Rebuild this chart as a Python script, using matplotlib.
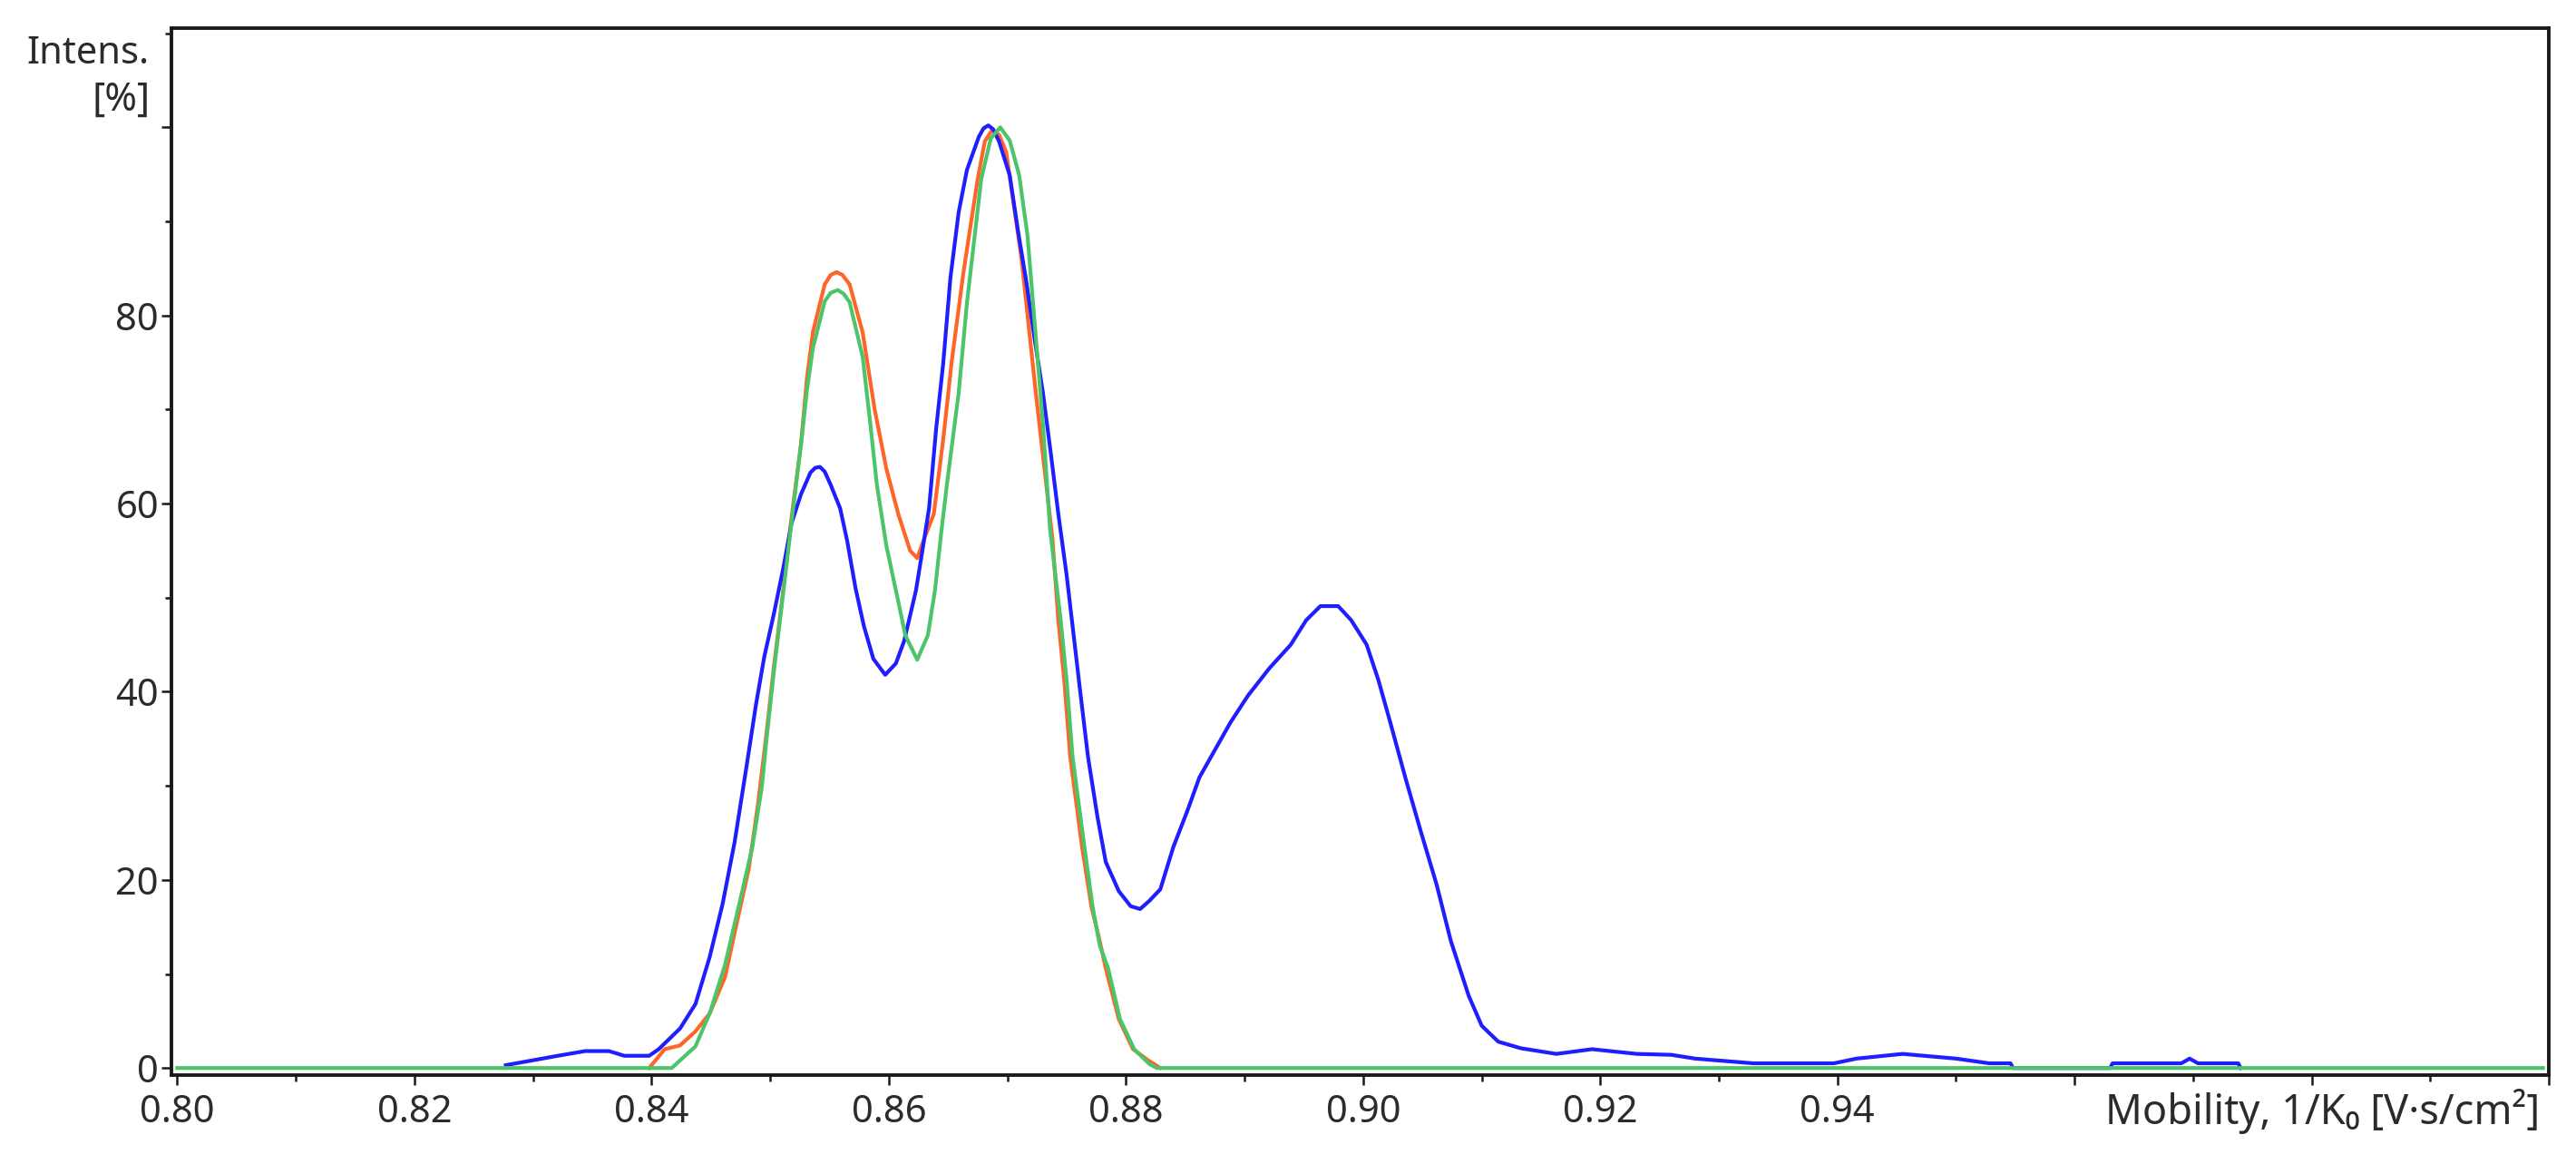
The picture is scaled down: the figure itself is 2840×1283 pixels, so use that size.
import matplotlib
matplotlib.use("Agg")
import matplotlib.pyplot as plt
from matplotlib.ticker import MultipleLocator, FixedLocator, FixedFormatter

plt.rcParams["font.family"] = ["Noto Sans", "DejaVu Sans"]

# mobilograms, 1/K0 in V*s/cm2 vs relative intensity in %
blue_k0 = [0.8277, 0.8299, 0.8321, 0.8344, 0.8364, 0.8377, 0.8398, 0.8406, 0.8424,
           0.8437, 0.8449, 0.8460, 0.8470, 0.8480, 0.8488, 0.8495, 0.8503, 0.8511,
           0.8518, 0.8526, 0.8534, 0.8538, 0.8542, 0.8546, 0.8551, 0.8559, 0.8565,
           0.8572, 0.8579, 0.8587, 0.8597, 0.8606, 0.8613, 0.8623, 0.8628, 0.8634,
           0.8640, 0.8646, 0.8652, 0.8659, 0.8666, 0.8676, 0.8680, 0.8684, 0.8688,
           0.8693, 0.8702, 0.8709, 0.8716, 0.8723, 0.8730, 0.8737, 0.8743, 0.8750,
           0.8755, 0.8761, 0.8768, 0.8776, 0.8783, 0.8794, 0.8804, 0.8812, 0.8820,
           0.8829, 0.8840, 0.8852, 0.8862, 0.8875, 0.8888, 0.8903, 0.8921, 0.8939,
           0.8952, 0.8964, 0.8979, 0.8990, 0.9003, 0.9013, 0.9023, 0.9036, 0.9049,
           0.9062, 0.9074, 0.9089, 0.9100, 0.9114, 0.9133, 0.9163, 0.9193, 0.9231,
           0.9260, 0.9280, 0.9329, 0.9397, 0.9416, 0.9455, 0.9500, 0.9528, 0.9546,
           0.9548, 0.9630, 0.9632, 0.9690, 0.9697, 0.9704, 0.9738, 0.9740]
blue_int = [0.3, 0.8, 1.3, 1.8, 1.8, 1.3, 1.3, 2.0, 4.2,
            6.8, 11.8, 17.5, 24.0, 32.0, 38.6, 43.7, 48.2, 53.1,
            57.9, 61.0, 63.3, 63.8, 63.9, 63.4, 62.0, 59.5, 56.0,
            51.0, 47.0, 43.5, 41.8, 43.0, 45.4, 50.8, 54.7, 59.5,
            68.0, 75.0, 84.0, 91.0, 95.5, 99.0, 99.9, 100.2, 99.8,
            98.5, 94.9, 89.0, 83.6, 77.5, 71.8, 65.0, 58.9, 52.4,
            47.0, 40.5, 33.1, 26.7, 21.9, 18.8, 17.2, 16.9, 17.8,
            19.0, 23.5, 27.4, 30.9, 33.8, 36.7, 39.6, 42.5, 45.0,
            47.6, 49.1, 49.1, 47.6, 45.0, 41.2, 36.7, 30.7, 25.0,
            19.5, 13.5, 7.7, 4.5, 2.8, 2.1, 1.5, 2.0, 1.5,
            1.4, 1.0, 0.5, 0.5, 1.0, 1.5, 1.0, 0.5, 0.5,
            0.0, 0.0, 0.5, 0.5, 1.0, 0.5, 0.5, 0.0]

orange_k0 = [0.8398, 0.8411, 0.8424, 0.8437, 0.8449, 0.8462, 0.8472, 0.8482, 0.8490,
             0.8497, 0.8503, 0.8511, 0.8518, 0.8526, 0.8531, 0.8536, 0.8546, 0.8551,
             0.8556, 0.8561, 0.8567, 0.8578, 0.8588, 0.8598, 0.8608, 0.8618, 0.8624,
             0.8630, 0.8638, 0.8646, 0.8653, 0.8663, 0.8675, 0.8681, 0.8687, 0.8693,
             0.8699, 0.8712, 0.8724, 0.8738, 0.8743, 0.8748, 0.8753, 0.8758, 0.8763,
             0.8771, 0.8777, 0.8783, 0.8794, 0.8806, 0.8819, 0.8829]
orange_int = [0.0, 2.0, 2.4, 3.9, 5.8, 9.7, 15.5, 21.2, 28.3,
              35.7, 42.5, 50.8, 58.5, 66.3, 73.3, 78.2, 83.3, 84.3,
              84.6, 84.3, 83.3, 78.2, 70.1, 63.7, 58.9, 55.0, 54.2,
              56.3, 58.9, 66.9, 75.0, 84.6, 94.5, 98.5, 99.7, 99.2,
              97.4, 86.0, 71.8, 56.3, 47.6, 41.2, 33.1, 28.3, 23.5,
              17.1, 14.0, 10.6, 5.2, 2.0, 0.8, 0.0]

green_k0 = [0.8000, 0.8417, 0.8437, 0.8449, 0.8462, 0.8475, 0.8485, 0.8493, 0.8497,
            0.8503, 0.8511, 0.8518, 0.8526, 0.8531, 0.8536, 0.8546, 0.8551, 0.8557,
            0.8562, 0.8567, 0.8578, 0.8584, 0.8590, 0.8598, 0.8607, 0.8614, 0.8624,
            0.8633, 0.8639, 0.8644, 0.8649, 0.8659, 0.8666, 0.8678, 0.8686, 0.8694,
            0.8702, 0.8710, 0.8717, 0.8730, 0.8736, 0.8745, 0.8750, 0.8755, 0.8760,
            0.8765, 0.8772, 0.8778, 0.8785, 0.8795, 0.8807, 0.8820, 0.8826, 0.9995]
green_int = [0.0, 0.0, 2.3, 5.8, 11.0, 18.0, 23.5, 29.9, 35.0,
             42.0, 50.5, 58.0, 66.3, 72.0, 76.5, 81.5, 82.4, 82.7,
             82.3, 81.4, 75.6, 69.0, 62.0, 55.5, 50.2, 46.0, 43.4,
             46.0, 50.8, 56.6, 62.0, 71.8, 81.4, 94.5, 98.8, 100.0,
             98.6, 94.9, 88.5, 68.5, 57.3, 47.6, 41.2, 33.1, 28.3,
             23.5, 17.1, 13.0, 10.6, 5.2, 2.0, 0.4, 0.0, 0.0]

x_major = [0.80, 0.82, 0.84, 0.86, 0.88, 0.90, 0.92, 0.94, 0.96, 0.98, 1.00]
x_labels = ["0.80", "0.82", "0.84", "0.86", "0.88", "0.90", "0.92", "0.94", "", "", ""]
y_major = [0, 20, 40, 60, 80, 100]
y_labels = ["0", "20", "40", "60", "80", ""]

BLUE = "#1e1eff"
ORANGE = "#ff6428"
GREEN = "#4cc46a"
TEXT = "#2b2b2b"

fig = plt.figure(figsize=(28.4, 12.83), dpi=100)
ax = fig.add_axes([0.0665, 0.076, 0.923, 0.8995])

ax.plot(orange_k0, orange_int, color=ORANGE, lw=3.0, zorder=3)
ax.plot(blue_k0, blue_int, color=BLUE, lw=3.0, zorder=4)
ax.plot(green_k0, green_int, color=GREEN, lw=3.0, zorder=5)

ax.set_xlim(0.7995, 1.0)
ax.set_ylim(-0.8, 110.5)

ax.xaxis.set_major_locator(FixedLocator(x_major))
ax.xaxis.set_major_formatter(FixedFormatter(x_labels))
ax.xaxis.set_minor_locator(MultipleLocator(0.01))
ax.yaxis.set_major_locator(FixedLocator(y_major))
ax.yaxis.set_major_formatter(FixedFormatter(y_labels))
ax.yaxis.set_minor_locator(MultipleLocator(10))

for side in ["left", "bottom", "top", "right"]:
    ax.spines[side].set_linewidth(2.8)
    ax.spines[side].set_color("#1a1a1a")

ax.tick_params(axis="both", which="major", direction="out", length=8, width=1.8,
               labelsize=30, color="#1a1a1a", labelcolor=TEXT)
ax.tick_params(axis="both", which="minor", direction="out", length=5, width=1.8,
               color="#1a1a1a")
ax.tick_params(axis="x", which="major", pad=6)
ax.tick_params(axis="y", which="major", pad=2)

fig.text(0.0578, 0.9454, "Intens.", ha="right", va="baseline", fontsize=30, color=TEXT)
fig.text(0.0584, 0.905, "[%]", ha="right", va="baseline", fontsize=31, color=TEXT)
fig.text(0.9860, 0.0343, "Mobility, 1/K₀ [V·s/cm²]", ha="right", va="baseline",
         fontsize=32.5, color=TEXT)

fig.savefig("out.png", dpi=100)
